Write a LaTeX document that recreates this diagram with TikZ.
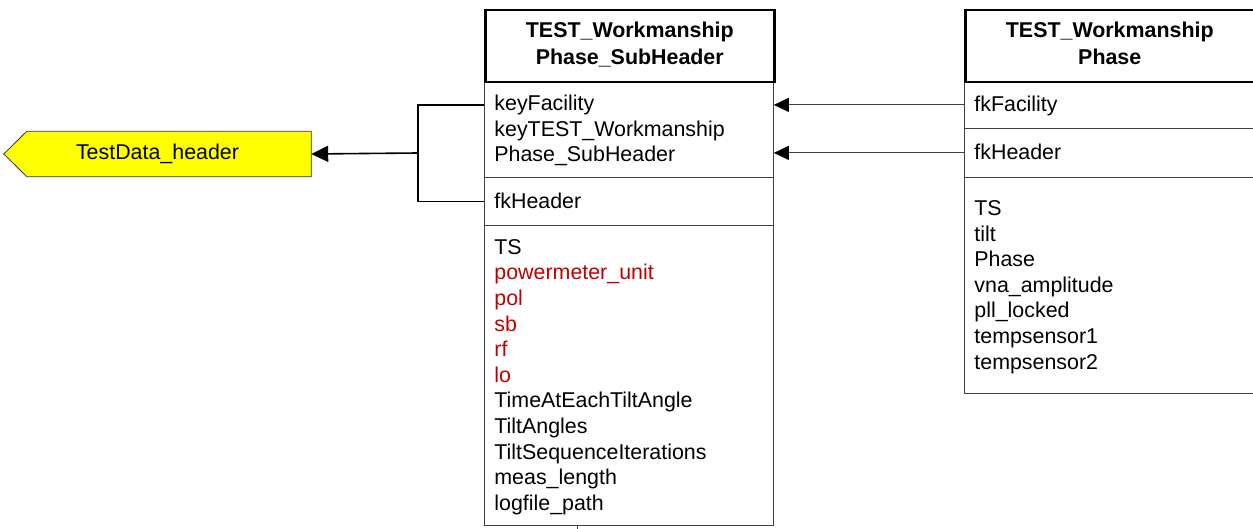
\documentclass[tikz,border=0pt]{standalone}
\usepackage{fontspec}
\setmainfont{Liberation Sans}
\usetikzlibrary{arrows.meta,backgrounds}

\definecolor{attrred}{RGB}{192,0,0}
\definecolor{hdryellow}{RGB}{255,255,0}

\newcommand{\rowstrut}{\rule[-5pt]{0pt}{24pt}}
\newcommand{\headstrut}{\rule[-5.5pt]{0pt}{23pt}}

\tikzset{
	tblhead/.style = {draw, line width=2.5pt, fill=white, anchor=north west, minimum width=289pt, minimum height=72pt, inner sep=0pt, align=center, font=\fontsize{21.4}{27}\selectfont\bfseries, execute at begin node=\headstrut, execute at end node=\headstrut},
	tblrow/.style = {draw=black!75, line width=0.8pt, anchor=north west, text width=269pt, inner xsep=10pt, inner ysep=0pt, align=left, font=\fontsize{21.4}{25.6}\selectfont, execute at begin node=\rowstrut, execute at end node=\rowstrut},
	datahdr/.style = {minimum width=307pt, minimum height=45pt, inner sep=0pt, font=\fontsize{21.4}{25}\selectfont},
	fklink/.style = {draw=black!75, line width=0.8pt, -{Triangle[length=15pt, width=14pt, color=black]}},
	keylink/.style = {draw=black, line width=1.6pt}
}

\begin{document}
\begin{tikzpicture}[x=1pt, y=-1pt]

	\useasboundingbox (0, 0) rectangle (1253, 529);

	% Header table on the left
	
	\node (tdh) [datahdr] at (157.5, 154) {TestData\_header};
	\begin{scope}[on background layer]
		\filldraw [fill=hdryellow, draw=black!80, line width=0.8pt] (tdh.north east) -- (tdh.south east) -- ([xshift=23pt]tdh.south west) -- (tdh.west) -- ([xshift=23pt]tdh.north west) -- cycle;
	\end{scope}
	
	% Sub header table
	
	\node (subkeys) [tblrow, minimum height=96pt] at (484, 81) {keyFacility\\keyTEST\_Workmanship\\Phase\_SubHeader};
	\node (subfk) [tblrow, minimum height=48pt] at (484, 177) {fkHeader};
	\node (subattr) [tblrow, minimum height=300pt] at (484, 225) {TS\\
		\textcolor{attrred}{powermeter\_unit}\\
		\textcolor{attrred}{pol}\\
		\textcolor{attrred}{sb}\\
		\textcolor{attrred}{rf}\\
		\textcolor{attrred}{lo}\\
		TimeAtEachTiltAngle\\TiltAngles\\TiltSequenceIterations\\meas\_length\\logfile\_path};
	\node (subhdr) [tblhead] at (484, 9) {TEST\_Workmanship\\Phase\_SubHeader};
	
	\draw [black!75, line width=0.8pt] (subattr.south west) ++(93, 0) -- ++(0, 4);
	
	% Phase table
	
	\node (phfac) [tblrow, minimum height=47pt] at (964, 81) {fkFacility};
	\node (phfk) [tblrow, minimum height=49pt] at (964, 128) {fkHeader};
	\node (phattr) [tblrow, minimum height=216pt] at (964, 177) {TS\\tilt\\Phase\\vna\_amplitude\\pll\_locked\\tempsensor1\\tempsensor2};
	\node (phhdr) [tblhead] at (964, 9) {TEST\_Workmanship\\Phase};
	
	% Links between the tables
	
	\draw [fklink] (phfac.west) -- (phfac.west -| subkeys.east);
	\draw [fklink] (phfk.west) -- (phfk.west -| subkeys.east);
	
	\coordinate (split) at (418, 153);
	\draw [keylink] (subkeys.west |- phfac.west) -| (split) |- (subfk.west);
	\draw [keylink, -{Triangle[length=17pt, width=16pt]}] (split) -- (tdh.east);

\end{tikzpicture}
\end{document}
